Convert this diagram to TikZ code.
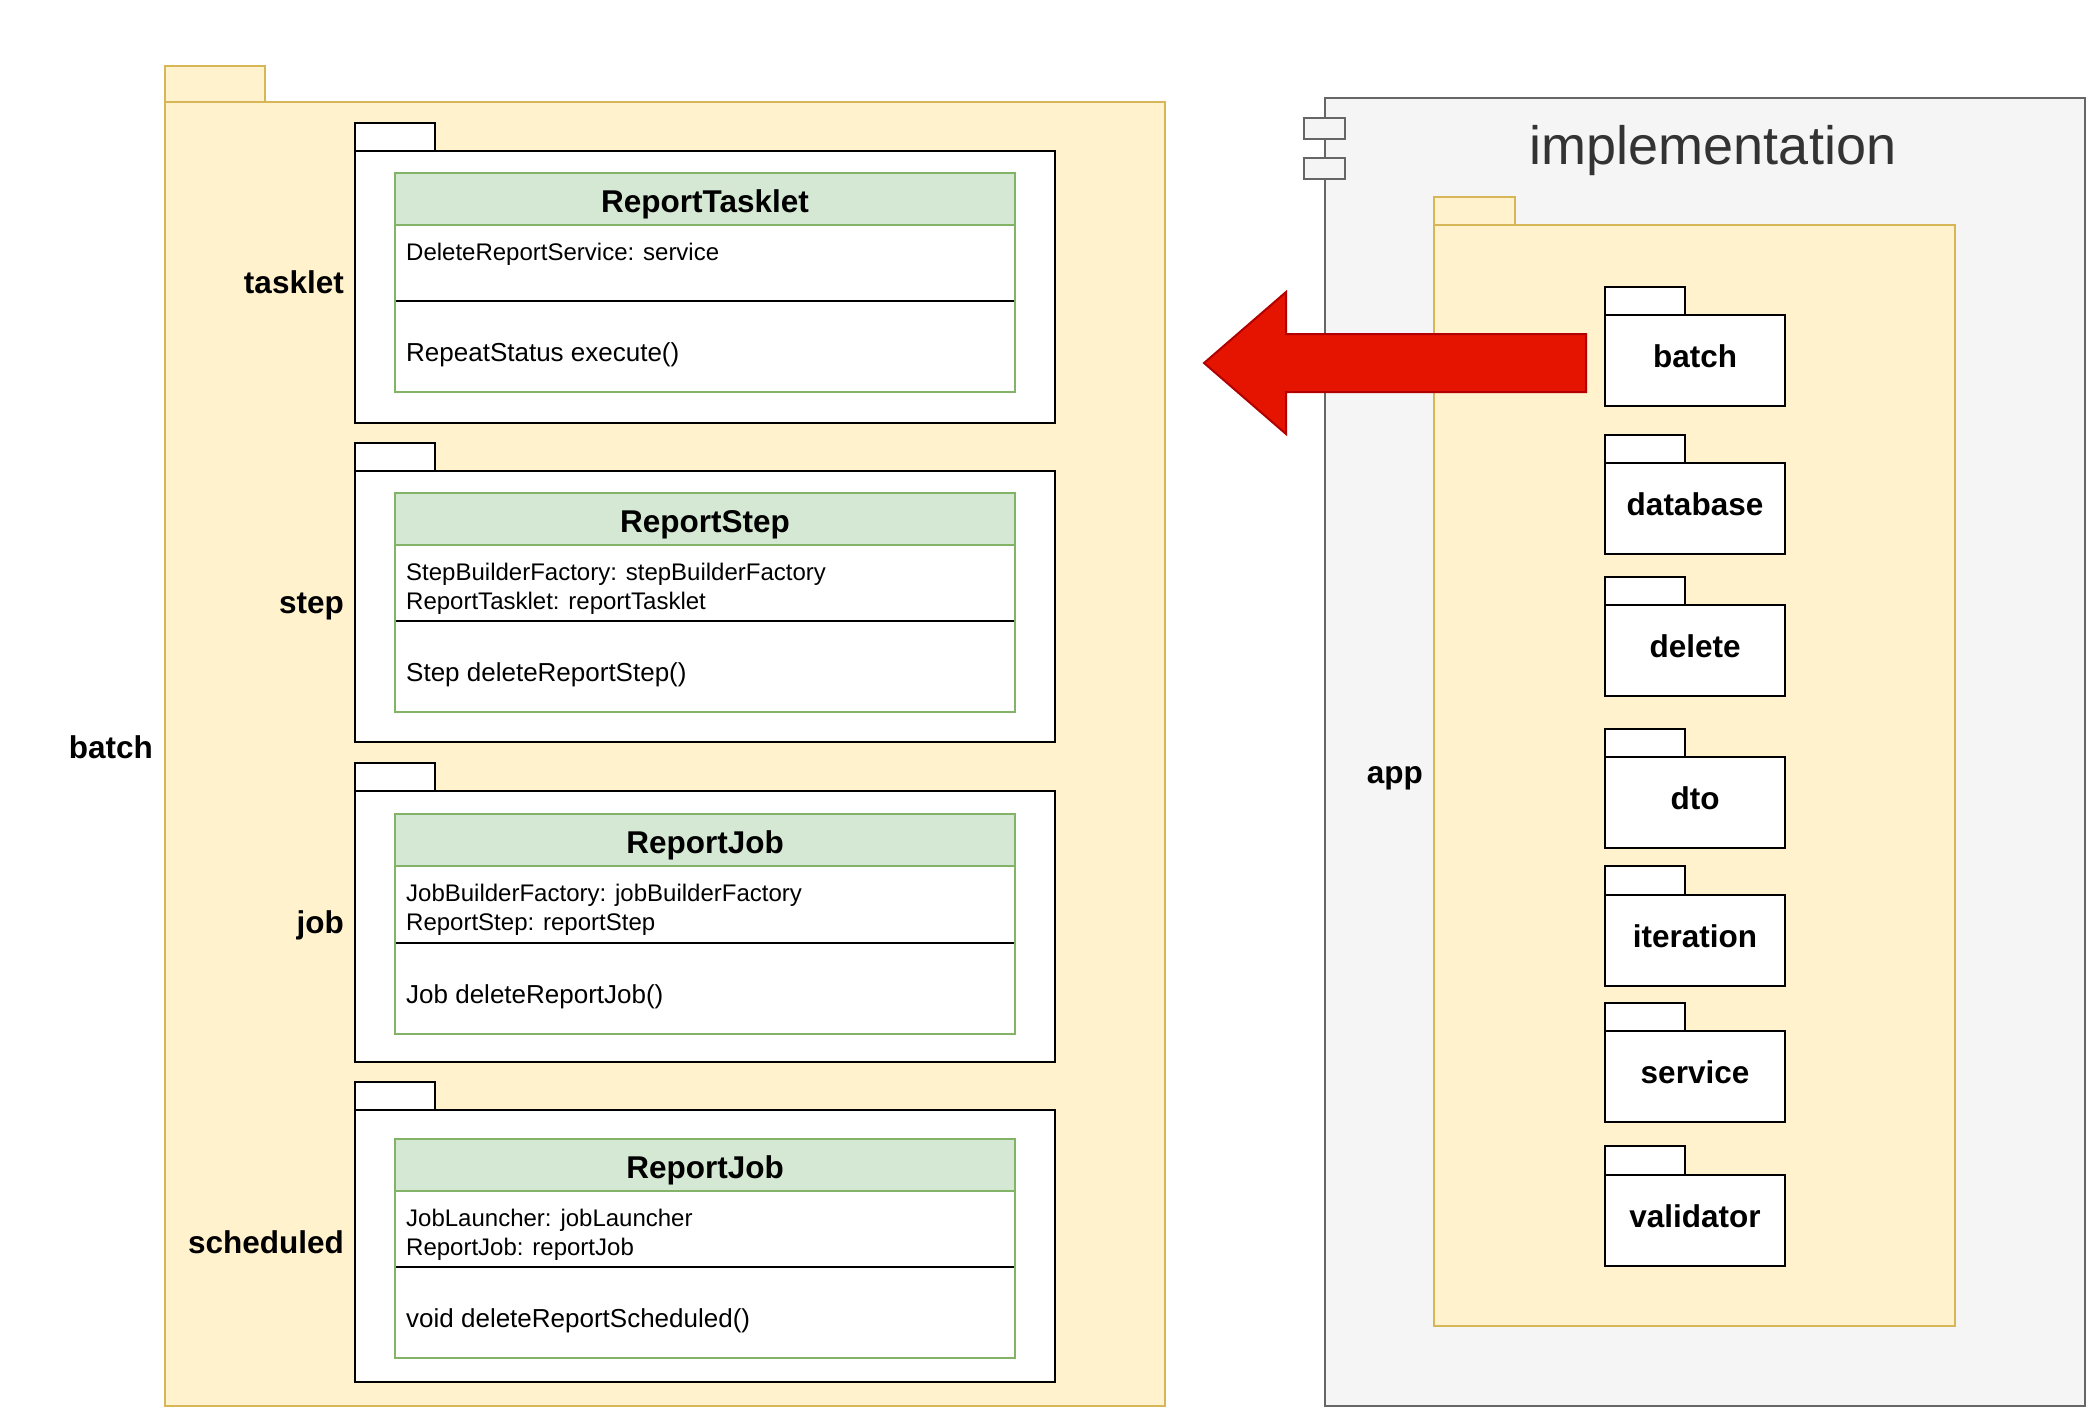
\documentclass[tikz,border=0pt]{standalone}
\usepackage{fontspec}
\setmainfont{Liberation Sans}
\definecolor{yfill}{HTML}{FFF2CC}
\definecolor{ystroke}{HTML}{D6B656}
\definecolor{gfill}{HTML}{D5E8D4}
\definecolor{gstroke}{HTML}{82B366}
\definecolor{cfill}{HTML}{F5F5F5}
\definecolor{cstroke}{HTML}{666666}
\definecolor{ctext}{HTML}{333333}
\definecolor{rfill}{HTML}{E51400}
\definecolor{rstroke}{HTML}{B20000}
\tikzset{
  box/.style={rectangle, inner sep=0pt, outer sep=0pt, anchor=north west},
  ypkg/.style={box, fill=yfill, draw=ystroke, line width=2.2pt},
  wpkg/.style={box, fill=white, draw=black, line width=2.2pt},
  comp/.style={box, fill=cfill, draw=cstroke, line width=2.2pt},
  chead/.style={box, fill=gfill, draw=gstroke, line width=2.2pt},
  cbody/.style={box, fill=white, draw=gstroke, line width=2.2pt},
  lbl/.style={inner sep=0pt, font=\bfseries\fontsize{31.5}{36}\selectfont},
  hdr/.style={inner sep=0pt, anchor=base, font=\bfseries\fontsize{31.5}{36}\selectfont},
  attr/.style={inner sep=0pt, anchor=base west, font=\fontsize{24}{28.8}\selectfont},
  meth/.style={inner sep=0pt, anchor=base west, font=\fontsize{26}{31}\selectfont},
}
% \bx{name}{style}{x1}{y1}{x2}{y2}
\newcommand\bx[6]{\node[#2, minimum width={#5pt-#3pt}, minimum height={#6pt-#4pt}] (#1) at (#3,#4) {};}
% \uclass{name}{top}{headsep}{compsep}{bottom}{title}{attr line 1}{method}{attr line 2}
\newcommand\uclass[9]{%
  \bx{#1-h}{chead}{395}{#2}{1015}{#3}
  \bx{#1-a}{cbody}{395}{#3}{1015}{#4}
  \bx{#1-m}{cbody}{395}{#4}{1015}{#5}
  \draw[line width=2.2pt] (#1-m.north west) -- (#1-m.north east);
  \draw[gstroke, line width=2.2pt] (#1-h.north west) rectangle (#1-m.south east);
  \node[hdr] (#1-title) at (705,#2+39) {#6};
  \node[attr] (#1-attr1) at (406,#3+35) {#7};
  \node[attr] (#1-attr2) at (406,#3+64) {#9};
  \node[meth] (#1-meth) at (406,#4+60) {#8};
}
\begin{document}
\begin{tikzpicture}[x=1pt, y=-1pt]
\useasboundingbox (0,0) rectangle (2100,1424);
\fill[white] (0,0) rectangle (2100,1424);

% ---------- left: batch package ----------
\bx{batch-tab}{ypkg}{165}{66}{265}{102}
\bx{batch}{ypkg}{165}{102}{1165}{1406}
\node[lbl, anchor=base east] (batch-lbl) at (153,758) {batch};

% tasklet
\bx{tasklet-tab}{wpkg}{355}{123}{435}{151}
\bx{tasklet}{wpkg}{355}{151}{1055}{423}
\node[lbl, anchor=base east] (tasklet-lbl) at (344,293) {tasklet};
\uclass{rt}{173}{225}{301}{392}{ReportTasklet}{DeleteReportService: service}{RepeatStatus execute()}{}

% step
\bx{step-tab}{wpkg}{355}{443}{435}{471}
\bx{step}{wpkg}{355}{471}{1055}{742}
\node[lbl, anchor=base east] (step-lbl) at (344,613) {step};
\uclass{rs}{493}{545}{621}{712}{ReportStep}{StepBuilderFactory: stepBuilderFactory}{Step deleteReportStep()}{ReportTasklet: reportTasklet}

% job
\bx{job-tab}{wpkg}{355}{763}{435}{791}
\bx{job}{wpkg}{355}{791}{1055}{1062}
\node[lbl, anchor=base east] (job-lbl) at (344,933) {job};
\uclass{rj}{814}{866}{943}{1034}{ReportJob}{JobBuilderFactory: jobBuilderFactory}{Job deleteReportJob()}{ReportStep: reportStep}

% scheduled
\bx{sched-tab}{wpkg}{355}{1082}{435}{1110}
\bx{sched}{wpkg}{355}{1110}{1055}{1382}
\node[lbl, anchor=base east] (sched-lbl) at (344,1253) {scheduled};
\uclass{rsj}{1139}{1191}{1267}{1358}{ReportJob}{JobLauncher: jobLauncher}{void deleteReportScheduled()}{ReportJob: reportJob}

% ---------- right: implementation component ----------
\bx{impl}{comp}{1325}{98}{2085}{1406}
\bx{impl-p1}{comp}{1304}{118}{1345}{139}
\bx{impl-p2}{comp}{1304}{158}{1345}{179}
\node[inner sep=0pt, anchor=base, text=ctext, font=\fontsize{54}{60}\selectfont] (impl-lbl) at (1713,164) {implementation};

\bx{app-tab}{ypkg}{1434}{197}{1515}{225}
\bx{app}{ypkg}{1434}{225}{1955}{1326}
\node[lbl, anchor=base east] (app-lbl) at (1423,783) {app};

\foreach \n/\t/\b/\e in {batch/287/315/406, database/435/463/554, delete/577/605/696, dto/729/757/848, iteration/866/895/986, service/1003/1031/1122, validator/1146/1175/1266}{
  \bx{p-\n-tab}{wpkg}{1605}{\t}{1685}{\b}
  \bx{p-\n}{wpkg}{1605}{\b}{1785}{\e}
  \node[lbl, anchor=base] (p-\n-lbl) at (1695,\b+52) {\n};
}

% ---------- red arrow ----------
\coordinate (tip) at (1204,363);
\coordinate (tail) at (1586,363);
\draw[fill=rfill, draw=rstroke, line width=2pt, line join=miter]
  (tip) -- (1286,292) -- (1286,334) -- (tail |- 0,334) -- (tail |- 0,392) -- (1286,392) -- (1286,434) -- cycle;
\end{tikzpicture}
\end{document}
